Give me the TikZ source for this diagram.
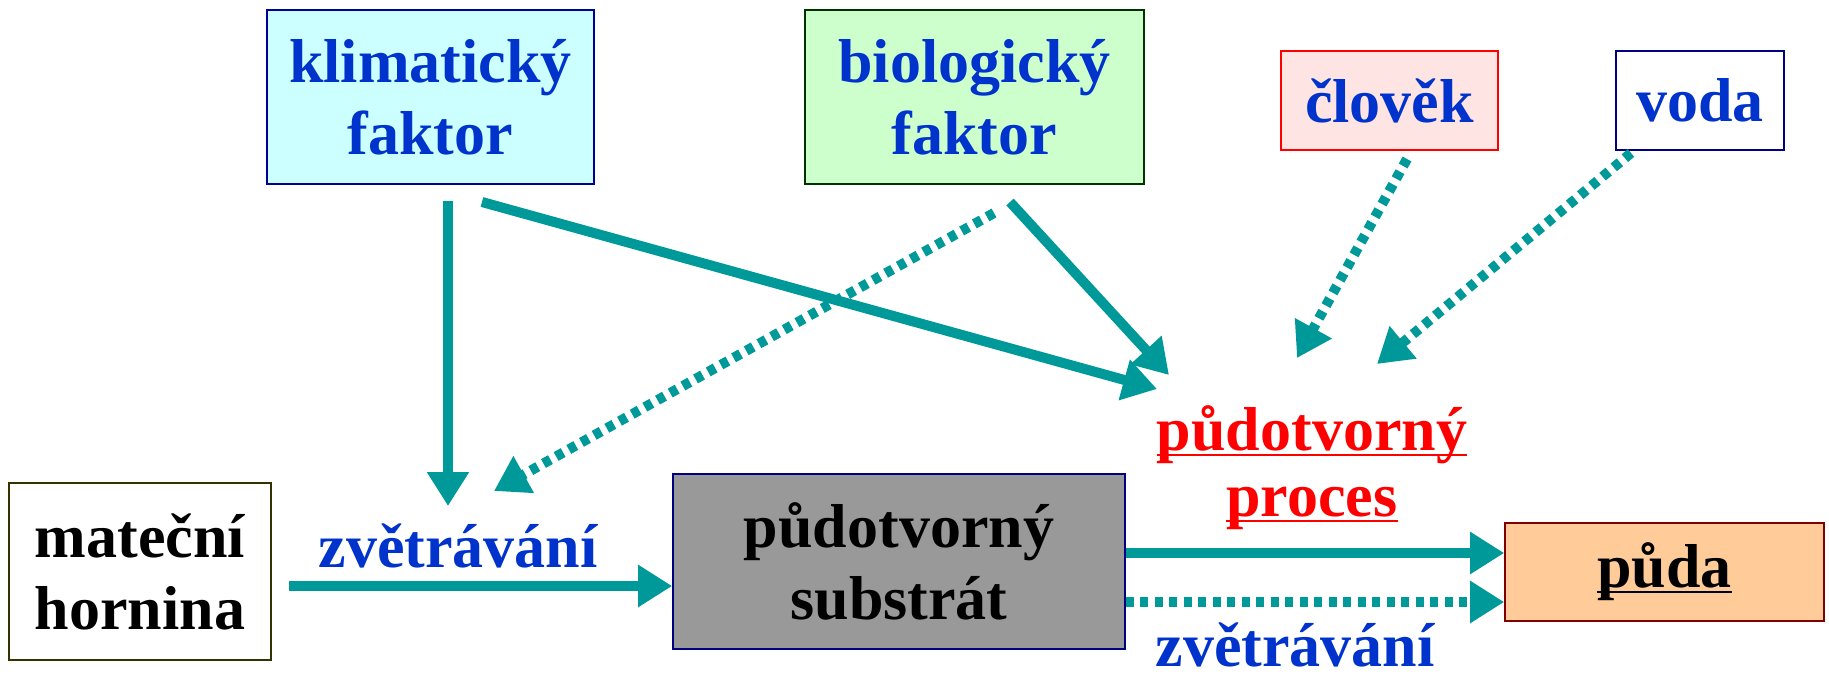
\documentclass[tikz,border=0pt]{standalone}
\usepackage{fontspec}
\setmainfont{Liberation Serif}
\usetikzlibrary{arrows.meta,calc}
\definecolor{arrcol}{HTML}{009999}
\definecolor{txtblue}{HTML}{0033CC}
\definecolor{txtred}{HTML}{FF0000}
\definecolor{klimfill}{HTML}{CCFFFF}
\definecolor{klimdraw}{HTML}{000099}
\definecolor{biofill}{HTML}{CCFFCC}
\definecolor{biodraw}{HTML}{003300}
\definecolor{clofill}{HTML}{FFE4E4}
\definecolor{vodadraw}{HTML}{000080}
\definecolor{matdraw}{HTML}{333300}
\definecolor{subfill}{HTML}{999999}
\definecolor{pudafill}{HTML}{FFCC99}
\definecolor{pudadraw}{HTML}{800000}
\newcommand\ulin[1]{\setbox0\hbox{#1}\rlap{\rule[-0.09em]{\wd0}{0.045em}}\box0}
\begin{document}
\begin{tikzpicture}[x=1pt,y=-1pt,
  box/.style={draw,line width=1.6pt,inner sep=0pt,align=center,
    font=\fontsize{62}{72}\selectfont\bfseries},
  lbl/.style={inner sep=0pt,align=center,font=\fontsize{62}{66}\selectfont\bfseries},
  arr/.style={draw=arrcol,line width=10pt,-{Triangle[length=34pt,width=40pt]}},
  dotarr/.style={arr,dash pattern=on 8pt off 6.5pt}]
\useasboundingbox (0,0) rectangle (1829,673);
\node[box,fill=klimfill,draw=klimdraw,text=txtblue,minimum width=327pt,minimum height=174pt] (klim) at (430.5,97) {klimatický\\faktor};
\node[box,fill=biofill,draw=biodraw,text=txtblue,minimum width=339pt,minimum height=174pt] (bio) at (974.5,97) {biologický\\faktor};
\node[box,fill=clofill,draw=txtred,text=txtblue,minimum width=217pt,minimum height=99pt] (clo) at (1389.5,100.5) {člověk};
\node[box,fill=white,draw=vodadraw,text=txtblue,minimum width=168pt,minimum height=99pt] (voda) at (1700,100.5) {voda};
\node[box,fill=white,draw=matdraw,text=black,minimum width=262pt,minimum height=177pt] (mat) at (140,571.5) {mateční\\hornina};
\node[box,fill=subfill,draw=vodadraw,text=black,minimum width=452pt,minimum height=175pt] (sub) at (899,561.5) {půdotvorný\\substrát};
\node[box,fill=pudafill,draw=pudadraw,text=black,minimum width=319pt,minimum height=98pt] (puda) at (1664.5,572) {\ulin{půda}};
\node[lbl,text=txtred] (proc) at (1312,468) {\ulin{půdotvorný}\\\ulin{proces}};
\node[lbl,text=txtblue] (zv1) at (458,546) {zvětrávání};
\node[lbl,text=txtblue] (zv2) at (1295,645) {zvětrávání};
% arrow end points
\coordinate (k1s) at (448,201);
\coordinate (k1e) at (448,506);
\coordinate (k2s) at (482,202);
\coordinate (k2e) at (1157,389);
\coordinate (b1s) at (994,213);
\coordinate (b1e) at (494,491);
\coordinate (b2s) at (1010,202);
\coordinate (b2e) at (1169,375);
\coordinate (cs) at (1407,159);
\coordinate (ce) at (1297,358);
\coordinate (vs) at (1631,153);
\coordinate (ve) at (1377,364);
\coordinate (ms) at (289,586);
\draw[arr] (k1s) -- (k1e);
\draw[arr] (k2s) -- (k2e);
\draw[dotarr] (b1s) -- (b1e);
\draw[arr] (b2s) -- (b2e);
\draw[dotarr] (cs) -- (ce);
\draw[dotarr] (vs) -- (ve);
\draw[arr] (ms) -- (ms -| sub.west);
\draw[arr] (sub.east |- 0,553) -- (puda.west |- 0,553);
\draw[dotarr] (sub.east |- 0,602) -- (puda.west |- 0,602);
\end{tikzpicture}
\end{document}
